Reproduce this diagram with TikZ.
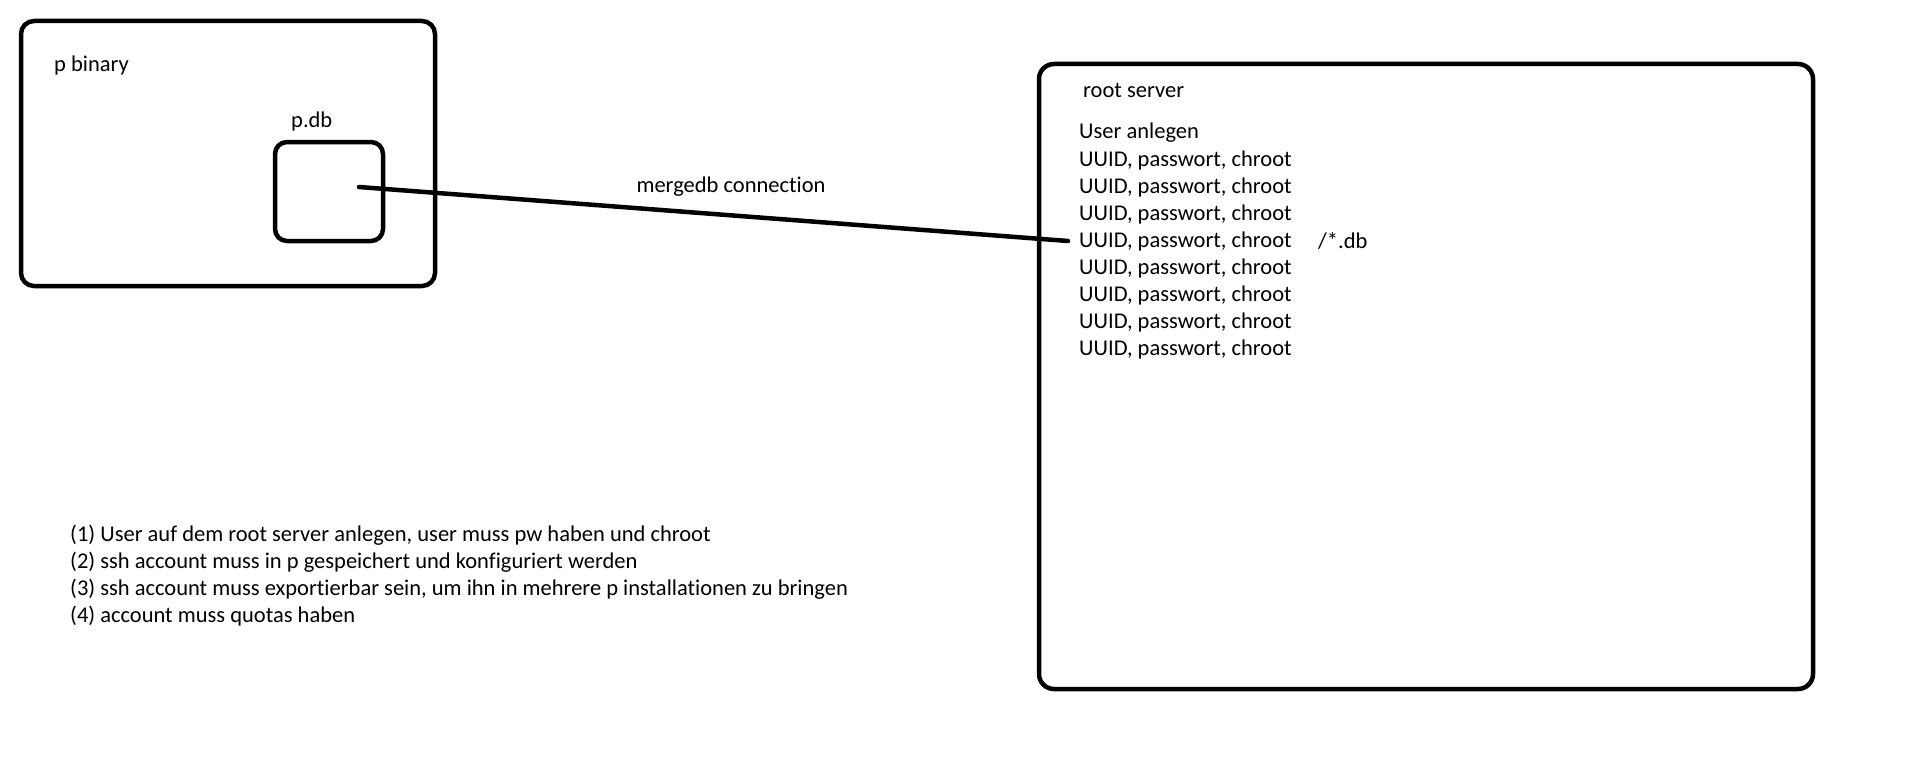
\documentclass[tikz,border=0pt]{standalone}
\usepackage{fontspec}
\setmainfont{Carlito}[Ligatures=NoCommon]
\begin{document}
\begin{tikzpicture}[x=1pt,y=-1pt,
  box/.style={draw=black, line width=4.5pt, rounded corners=13pt, inner sep=0pt},
  txt/.style={anchor=west, inner sep=0pt, text height=14pt, text depth=0pt, font=\fontsize{22.5}{27}\selectfont},
  conn/.style={draw=black, line width=4.5pt, line cap=round}]
\useasboundingbox (0,0) rectangle (1907,768);
\fill[white] (0,0) rectangle (1907,768);
% boxes
\node[box, minimum width=414pt, minimum height=265pt] (bin) at (228,153.5) {};
\node[box, minimum width=108pt, minimum height=99pt, rounded corners=12pt] (pdb) at (329,191.5) {};
\node[box, minimum width=774pt, minimum height=625pt, rounded corners=15pt] (srv) at (1426,376.5) {};
% labels
\node[txt] (lbin) at (54,65) {p binary};
\node[txt] (lpdb) at (291,121) {p.db};
\node[txt] (lsrv) at (1083,91) {root server};
\node[txt] (luser) at (1079,132) {User anlegen};
\foreach \i in {1,...,8} {
  \node[txt] (u\i) at (1079,{132+27*\i}) {UUID, passwort, chroot};
}
\node[txt] (ldb) at (1318,241) {/*.db};
% connection
\coordinate (cs) at (359,187);
\coordinate (ce) at (1068,241);
\draw[conn] (cs) -- (ce);
\node[txt, anchor=center] (lconn) at (731,185) {mergedb connection};
% notes
\node[txt] (n1) at (70,534) {(1) User auf dem root server anlegen, user muss pw haben und chroot};
\node[txt] (n2) at (70,561) {(2) ssh account muss in p gespeichert und konfiguriert werden};
\node[txt] (n3) at (70,588) {(3) ssh account muss exportierbar sein, um ihn in mehrere p installationen zu bringen};
\node[txt] (n4) at (70,615) {(4) account muss quotas haben};
\end{tikzpicture}
\end{document}
